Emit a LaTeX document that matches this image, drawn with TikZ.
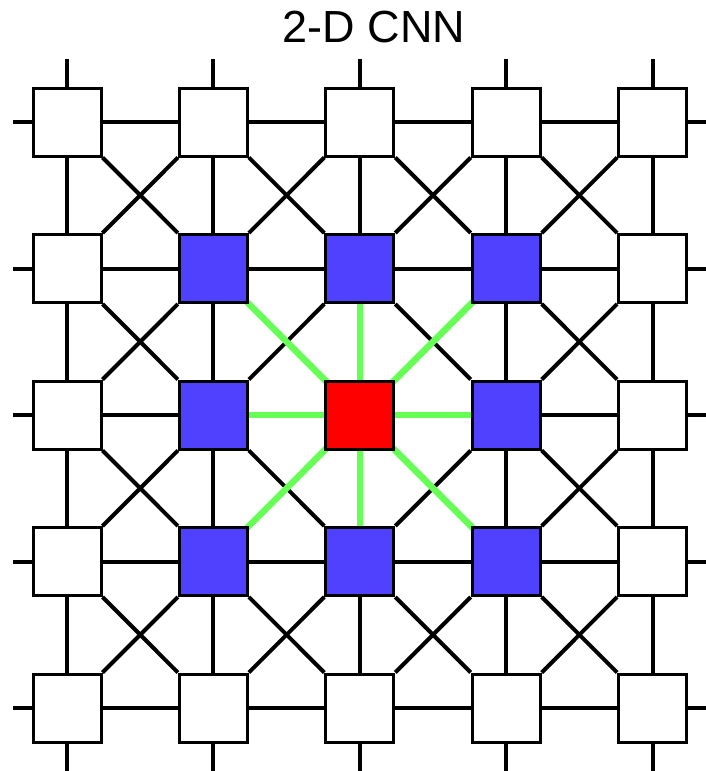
\documentclass[tikz,border=0pt]{standalone}
\usepackage{fontspec}
\setmainfont{Liberation Sans}
\usetikzlibrary{backgrounds}
\definecolor{cellblue}{RGB}{80,64,255}
\definecolor{cellred}{RGB}{255,0,0}
\definecolor{linkgreen}{RGB}{102,255,85}
\tikzset{
  cell/.style={draw=black, line width=3pt, minimum size=68pt, inner sep=0pt, fill=white},
  inner cell/.style={cell, fill=cellblue},
  center cell/.style={cell, fill=cellred},
  link/.style={draw=black, line width=4pt},
  hot link/.style={draw=linkgreen, line width=6.5pt},
}
\begin{document}
\begin{tikzpicture}[x=1pt,y=-1pt]
\useasboundingbox (0,0) rectangle (706,771);
\node[anchor=base, font=\fontsize{45}{52}\selectfont] (title) at (374,42) {2-D CNN};
\foreach \i in {0,...,4}{
  \foreach \j in {0,...,4}{
    \pgfmathsetmacro{\px}{67+146.4*\i}
    \pgfmathsetmacro{\py}{122+146.5*\j}
    \pgfmathtruncatemacro{\inner}{(\i>0)&&(\i<4)&&(\j>0)&&(\j<4)}
    \ifnum\i=2 \ifnum\j=2 \def\inner{2}\fi\fi
    \ifcase\inner
      \node[cell] (n-\i-\j) at (\px,\py) {};
    \or
      \node[inner cell] (n-\i-\j) at (\px,\py) {};
    \else
      \node[center cell] (n-\i-\j) at (\px,\py) {};
    \fi
  }
}
\begin{scope}[on background layer]
  % horizontal and vertical links
  \foreach \i [evaluate=\i as \k using int(\i+1)] in {0,...,3}{
    \foreach \j in {0,...,4}{
      \draw[link] (n-\i-\j) -- (n-\k-\j);
      \draw[link] (n-\j-\i) -- (n-\j-\k);
    }
  }
  % diagonal links
  \foreach \i [evaluate=\i as \k using int(\i+1)] in {0,...,3}{
    \foreach \j [evaluate=\j as \m using int(\j+1)] in {0,...,3}{
      \draw[link] (n-\i-\j.south east) -- (n-\k-\m.north west);
      \draw[link] (n-\k-\j.south west) -- (n-\i-\m.north east);
    }
  }
  % stubs
  \foreach \i in {0,...,4}{
    \draw[link] (n-\i-0.north) -- ++(0,-28);
    \draw[link] (n-\i-4.south) -- ++(0,28);
    \draw[link] (n-0-\i.west) -- ++(-19,0);
    \draw[link] (n-4-\i.east) -- ++(19,0);
  }
  % neighbourhood of the centre cell
  \foreach \a/\b in {1/1,2/1,3/1,1/2,3/2,1/3,2/3,3/3}{
    \draw[hot link] (n-2-2.center) -- (n-\a-\b.center);
  }
\end{scope}
\end{tikzpicture}
\end{document}
